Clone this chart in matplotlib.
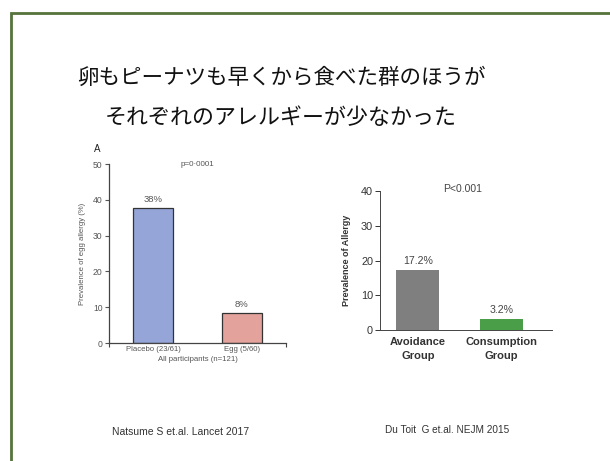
import matplotlib
matplotlib.use("Agg")
import matplotlib.pyplot as plt
from matplotlib.patches import Rectangle

plt.rcParams['font.family'] = ['Liberation Sans', 'Noto Sans CJK JP', 'DejaVu Sans']

# Data
title_lines = ["卵もピーナツも早くから食べた群のほうが", "それぞれのアレルギーが少なかった"]

egg_categories = ["Placebo (23/61)", "Egg (5/60)"]
egg_values = [37.7, 8.3]
egg_labels = ["38%", "8%"]
egg_ticks = [0, 10, 20, 30, 40, 50]

peanut_categories = ["Avoidance\nGroup", "Consumption\nGroup"]
peanut_values = [17.2, 3.2]
peanut_labels = ["17.2%", "3.2%"]
peanut_ticks = [0, 10, 20, 30, 40]

W, H = 610, 461
fig = plt.figure(figsize=(W / 100, H / 100), dpi=100)
fig.patch.set_facecolor('white')

def px_axes(x0, y_top, x1, y_bot):
    return fig.add_axes([x0 / W, 1 - y_bot / H, (x1 - x0) / W, (y_bot - y_top) / H])

# Slide border (green frame)
fig.add_artist(Rectangle((11 / W, -0.1), 1.2, 1 - 13 / H + 0.1, transform=fig.transFigure,
                         fill=False, edgecolor='#55733a', linewidth=2.0))

# Title
fig.text(281 / W, 1 - 78 / H, title_lines[0], ha='center', va='center',
         fontsize=15.5, family=['Noto Sans CJK JP'], color='#111111')
fig.text(281 / W, 1 - 118 / H, title_lines[1], ha='center', va='center',
         fontsize=15.8, family=['Noto Sans CJK JP'], color='#111111')

# Left chart (egg)
txt = '#555555'
ax1 = px_axes(109, 164, 286, 343)
ax1.bar(range(len(egg_values)), egg_values, width=0.45,
        color=['#95a5d8', '#e3a29c'], edgecolor='#333333', linewidth=0.9)
ax1.set_xlim(-0.5, 1.5)
ax1.set_ylim(0, 50)
ax1.set_yticks(egg_ticks)
ax1.set_xticks(range(len(egg_categories)))
ax1.set_xticklabels(egg_categories)
ax1.tick_params(axis='y', direction='out', length=3, width=0.8, labelsize=6.2, colors=txt, pad=1.5)
ax1.tick_params(axis='x', length=0, labelsize=5.6, colors=txt, pad=2)
ax1.set_xticks([-0.5, 1.5], minor=True)
ax1.tick_params(axis='x', which='minor', direction='out', length=3, width=0.8, color='#444444')
for s in ['top', 'right']:
    ax1.spines[s].set_visible(False)
for s in ['left', 'bottom']:
    ax1.spines[s].set_color('#444444')
    ax1.spines[s].set_linewidth(0.9)
for i, (v, l) in enumerate(zip(egg_values, egg_labels)):
    ax1.text(i, v + 1.2, l, ha='center', va='bottom', fontsize=6.8, color=txt)
ax1.set_ylabel("Prevalence of egg allergy (%)", fontsize=5.6, color=txt, labelpad=5)
ax1.set_xlabel("All participants (n=121)", fontsize=5.6, color=txt, labelpad=2)
ax1.text(0.5, 50, "p=0·0001", ha='center', va='center', fontsize=5.8, color=txt)
fig.text(97 / W, 1 - 149 / H, "A", ha='center', va='center', fontsize=7, color='#222222')

# Right chart (peanut)
ax2 = px_axes(380, 191, 552, 330)
ax2.bar(range(len(peanut_values)), peanut_values, width=0.51,
        color=['#7f7f7f', '#4a9e48'], edgecolor='none')
ax2.set_xlim(-0.45, 1.6)
ax2.set_ylim(0, 40)
ax2.set_yticks(peanut_ticks)
ax2.set_xticks(range(len(peanut_categories)))
ax2.set_xticklabels(peanut_categories, fontweight='bold', linespacing=1.45)
ax2.tick_params(axis='y', direction='out', length=3.5, width=0.7, labelsize=7.8, colors='#333333', pad=1.5)
ax2.tick_params(axis='x', length=0, labelsize=8, colors='#333333', pad=5)
for s in ['top', 'right']:
    ax2.spines[s].set_visible(False)
for s in ['left', 'bottom']:
    ax2.spines[s].set_color('#444444')
    ax2.spines[s].set_linewidth(0.7)
for i, (v, l) in enumerate(zip(peanut_values, peanut_labels)):
    ax2.text(i, v + 1.2, l, ha='center', va='bottom', fontsize=7.6, color='#444444')
ax2.set_ylabel("Prevalence of Allergy", fontsize=6.5, fontweight='bold', color='#333333', labelpad=7)
ax2.text(0.53, 40.5, "P<0.001", ha='center', va='center', fontsize=7.5, color='#444444')

# Citations
fig.text(112 / W, 1 - 432 / H, "Natsume S et.al. Lancet 2017", ha='left', va='center',
         fontsize=7.5, color='#333333')
fig.text(385 / W, 1 - 430 / H, "Du Toit  G et.al. NEJM 2015", ha='left', va='center',
         fontsize=7.2, color='#333333')

fig.savefig("out.png", dpi=100)
